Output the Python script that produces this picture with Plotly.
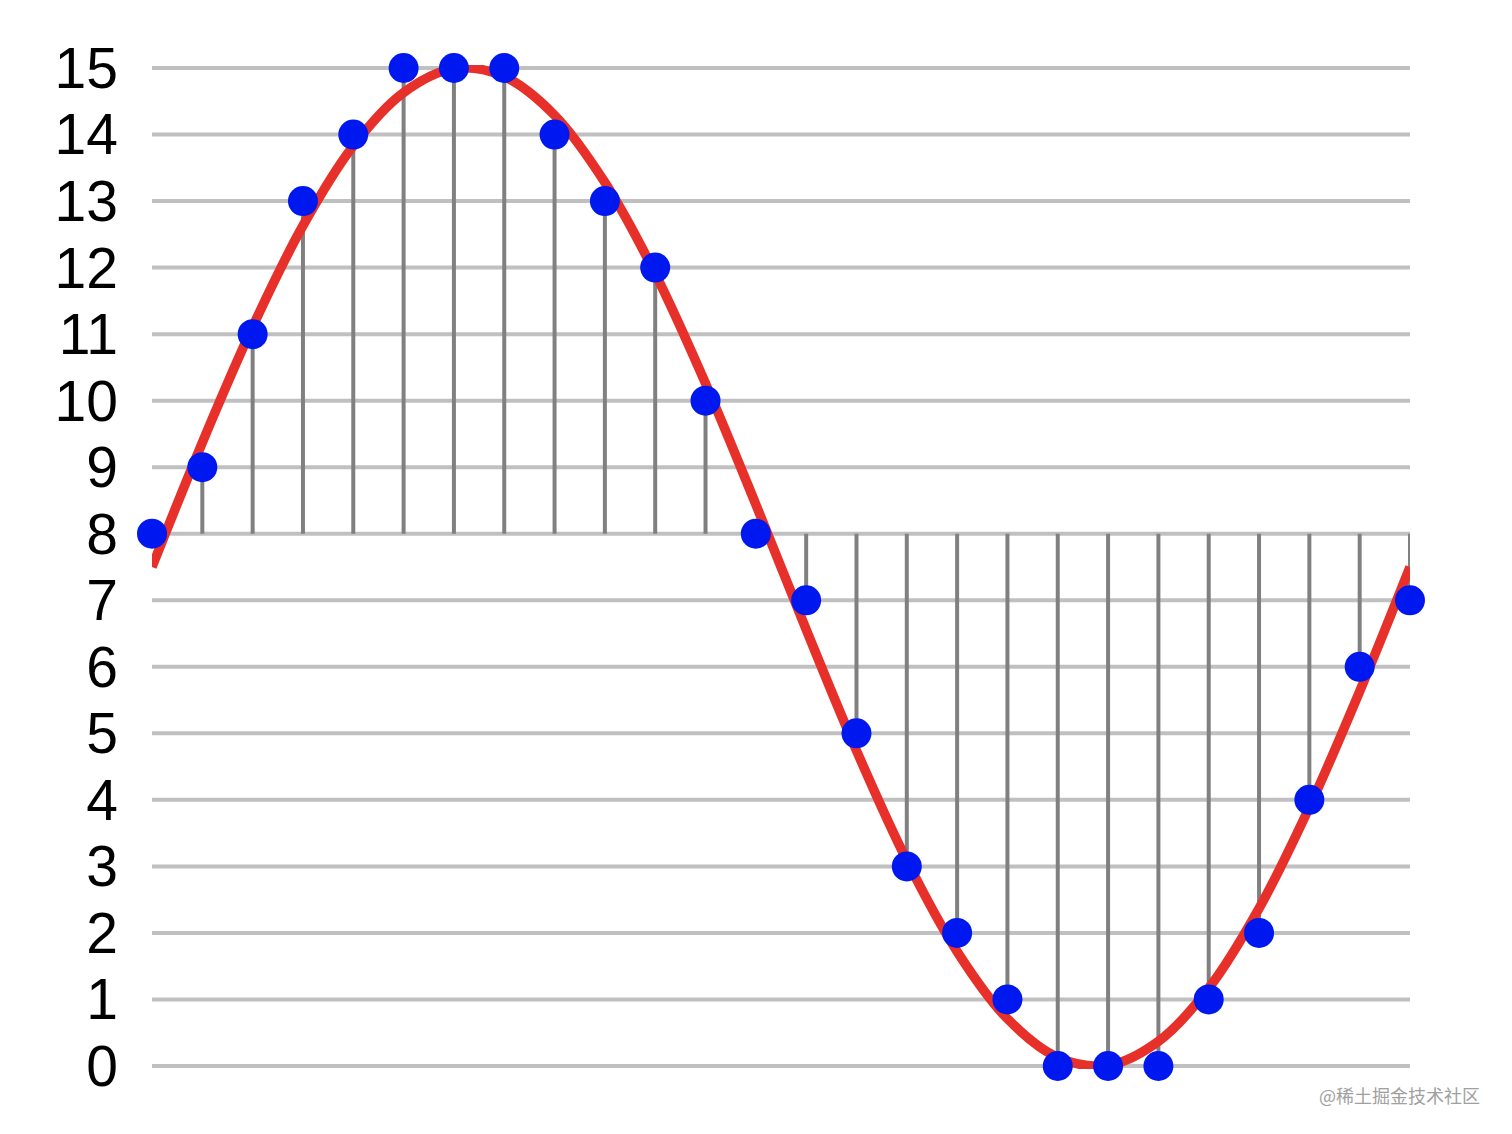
import plotly.graph_objects as go

# Sample indices and quantized 4-bit sample values
sample_x = list(range(26))
sample_values = [8, 9, 11, 13, 14, 15, 15, 15, 14, 13, 12, 10, 8, 7, 5, 3, 2, 1, 0, 0, 0, 1, 2, 4, 6, 7]

# Analog signal (red curve) at each sample position
curve_x = list(range(26))
curve_values = [7.5, 9.37, 11.11, 12.63, 13.83, 14.63, 14.99, 14.87, 14.29, 13.28,
                11.91, 10.26, 8.44, 6.56, 4.74, 3.09, 1.72, 0.71, 0.13, 0.01,
                0.37, 1.17, 2.37, 3.89, 5.63, 7.5]

baseline = 8
y_ticks = list(range(16))

# stems
stem_x, stem_y = [], []
for x, v in zip(sample_x, sample_values):
    stem_x += [x, x, None]
    stem_y += [baseline, v, None]

fig = go.Figure()
fig.add_trace(go.Scatter(x=stem_x, y=stem_y, mode="lines",
                         line=dict(color="#808080", width=4),
                         hoverinfo="skip", showlegend=False))
fig.add_trace(go.Scatter(x=curve_x, y=curve_values, mode="lines",
                         line=dict(color="#e8302a", width=9.5, shape="spline", smoothing=1.0),
                         showlegend=False, cliponaxis=False))
fig.add_trace(go.Scatter(x=sample_x, y=sample_values, mode="markers",
                         marker=dict(color="#0018f0", size=30, line=dict(width=0)),
                         showlegend=False, cliponaxis=False))

# horizontal grid lines (incl. the edge values 0 and 15)
for t in y_ticks:
    fig.add_shape(type="line", xref="x", yref="y", x0=sample_x[0], x1=sample_x[-1],
                  y0=t, y1=t, layer="below", line=dict(color="#c0c0c0", width=4))

pad = 0.045
fig.update_layout(
    width=1512, height=1134,
    margin=dict(l=144, r=110, t=57, b=73),
    paper_bgcolor="white", plot_bgcolor="white",
    font=dict(family="Liberation Sans, Arial, sans-serif", color="black"),
    xaxis=dict(range=[0, 25], showgrid=False, zeroline=False, showticklabels=False,
               showline=False, ticks=""),
    yaxis=dict(range=[-pad, 15 + pad], tickvals=y_ticks, ticktext=[str(t) for t in y_ticks],
               showgrid=False, zeroline=False,
               showline=False, ticks="", ticklabelstandoff=33,
               tickfont=dict(size=57, color="black")),
    annotations=[dict(text="@稀土掘金技术社区", xref="paper", yref="paper",
                      x=1.0, y=0, xanchor="right", yanchor="middle",
                      xshift=72, yshift=-26, showarrow=False,
                      font=dict(family="Noto Sans CJK SC", size=18, color="#a0a0a0"))],
)

fig.write_html("out.html")
